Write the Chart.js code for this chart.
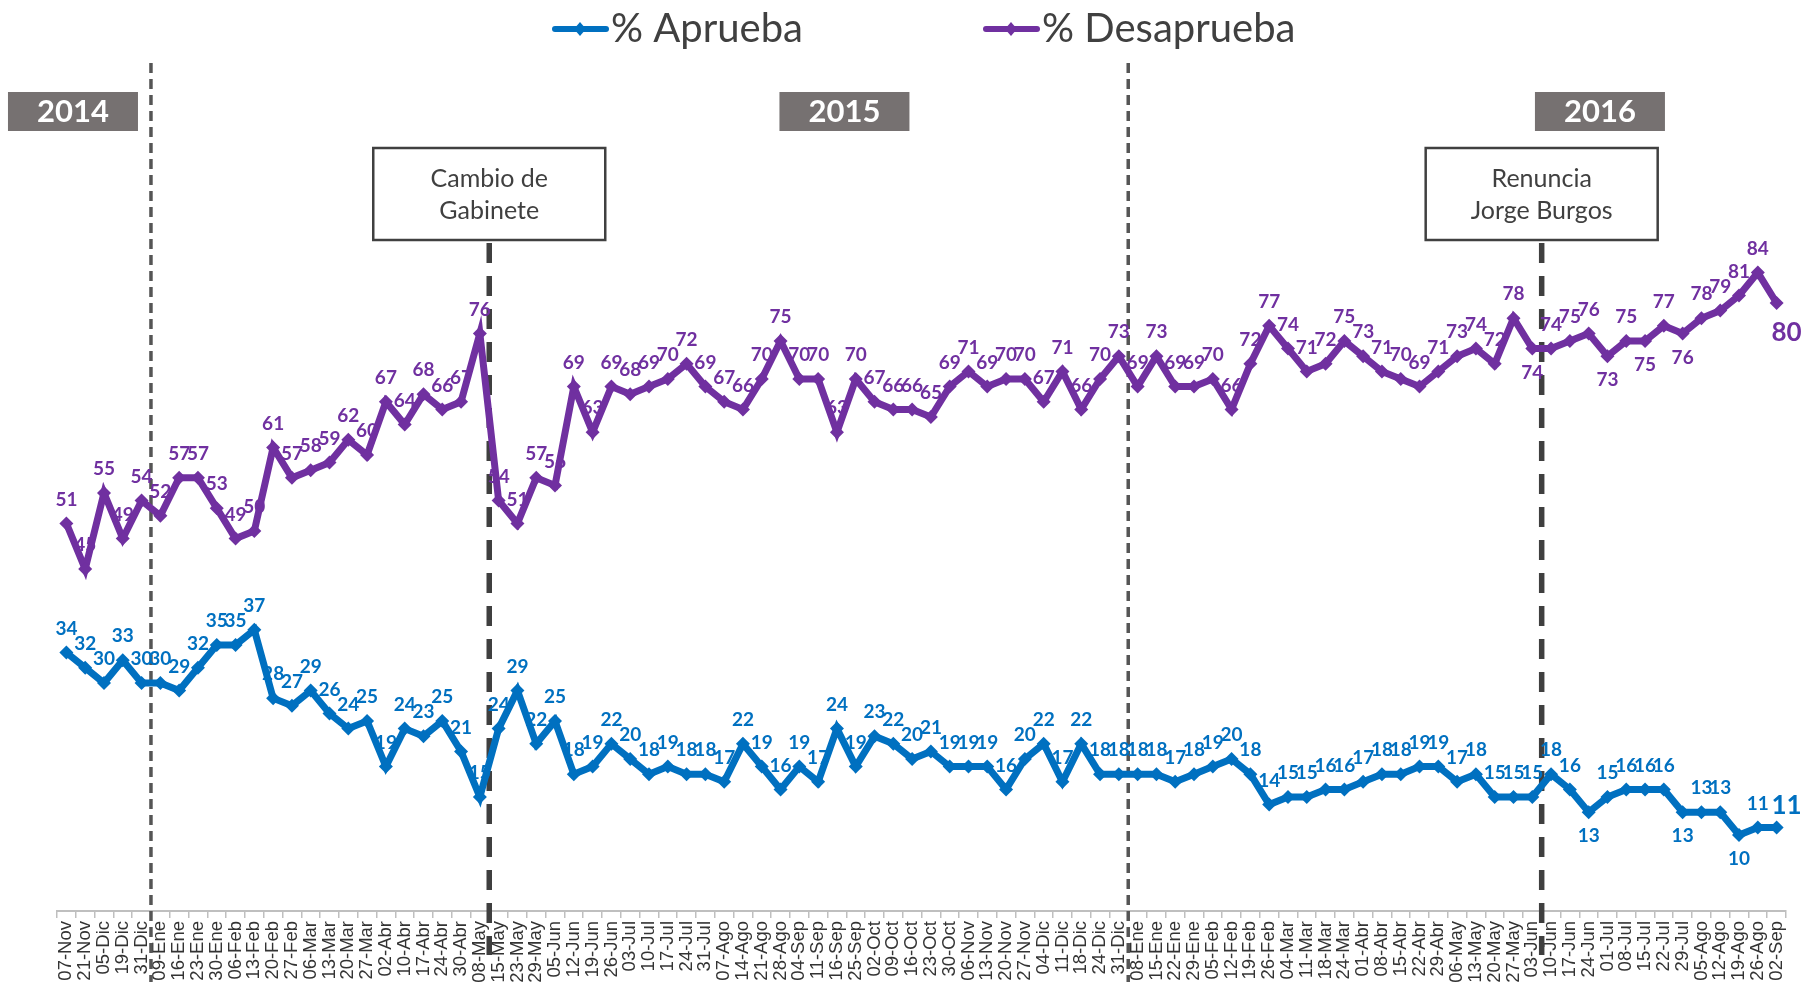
<!DOCTYPE html>
<html>
<head>
<meta charset="utf-8">
<script src="https://cdn.jsdelivr.net/npm/chart.js@4.4.0/dist/chart.umd.min.js"></script>
<style>
  html, body { margin: 0; padding: 0; background: #fff; }
  canvas { display: block; }
</style>
</head>
<body>
<canvas id="grafico" width="1802" height="982"></canvas>
<script>
// --- DATOS ---
const fechas = [
  '07-Nov','21-Nov','05-Dic','19-Dic','31-Dic',
  '09-Ene','16-Ene','23-Ene','30-Ene','06-Feb','13-Feb','20-Feb','27-Feb','06-Mar','13-Mar','20-Mar','27-Mar',
  '02-Abr','10-Abr','17-Abr','24-Abr','30-Abr','08-May','15-May','23-May','29-May','05-Jun','12-Jun','19-Jun',
  '26-Jun','03-Jul','10-Jul','17-Jul','24-Jul','31-Jul','07-Ago','14-Ago','21-Ago','28-Ago','04-Sep','11-Sep',
  '16-Sep','25-Sep','02-Oct','09-Oct','16-Oct','23-Oct','30-Oct','06-Nov','13-Nov','20-Nov','27-Nov','04-Dic',
  '11-Dic','18-Dic','24-Dic','31-Dic',
  '08-Ene','15-Ene','22-Ene','29-Ene','05-Feb','12-Feb','19-Feb','26-Feb','04-Mar','11-Mar','18-Mar','24-Mar',
  '01-Abr','08-Abr','15-Abr','22-Abr','29-Abr','06-May','13-May','20-May','27-May','03-Jun','10-Jun','17-Jun',
  '24-Jun','01-Jul','08-Jul','15-Jul','22-Jul','29-Jul','05-Ago','12-Ago','19-Ago','26-Ago','02-Sep'
];

const aprueba = [
  34, 32, 30, 33, 30,
  30, 29, 32, 35, 35, 37, 28, 27, 29, 26, 24, 25, 19, 24, 23, 25, 21, 15,
  24, 29, 22, 25, 18, 19, 22, 20, 18, 19, 18, 18, 17, 22, 19, 16, 19, 17,
  24, 19, 23, 22, 20, 21, 19, 19, 19, 16, 20, 22, 17, 22, 18, 18,
  18, 18, 17, 18, 19, 20, 18, 14, 15, 15, 16, 16, 17, 18, 18, 19, 19, 17,
  18, 15, 15, 15, 18, 16, 13, 15, 16, 16, 16, 13, 13, 13, 10, 11, 11
];

const desaprueba = [
  51, 45, 55, 49, 54,
  52, 57, 57, 53, 49, 50, 61, 57, 58, 59, 62, 60, 67, 64, 68, 66, 67, 76,
  54, 51, 57, 56, 69, 63, 69, 68, 69, 70, 72, 69, 67, 66, 70, 75, 70, 70,
  63, 70, 67, 66, 66, 65, 69, 71, 69, 70, 70, 67, 71, 66, 70, 73,
  69, 73, 69, 69, 70, 66, 72, 77, 74, 71, 72, 75, 73, 71, 70, 69, 71, 73,
  74, 72, 78, 74, 74, 75, 76, 73, 75, 75, 77, 76, 78, 79, 81, 84, 80
];

const anios = ['2014', '2015', '2016'];
const hitos = [['Cambio de', 'Gabinete'], ['Renuncia', 'Jorge Burgos']];

// --- ESTILO / POSICIONES ---
const AZUL = '#0070C0';
const MORADO = '#7030A0';
const GRIS_TXT = '#404040';
const FUENTE = 'Lato, "Open Sans", sans-serif';

// cortes de año (entre idx e idx+1) y eventos
const CORTES_ANIO = [4, 56];
const CORTES_HITO = [22, 78];
const CAJAS_ANIO = [0.35, 41.4, 81.6]; // centro en indice de categoria

// donde va cada etiqueta (por defecto arriba)
const POS_ETIQ = [
  { 81: 'below', 86: 'below', 89: 'below', 91: 'endUp' },
  { 78: 'below', 82: 'below', 84: 'below', 86: 'below', 91: 'endDown' }
];

function xEntre(sc, i) {
  return (sc.getPixelForValue(i) + sc.getPixelForValue(i + 1)) / 2;
}

function lineaV(ctx, x, y0, y1, w, dash, color) {
  ctx.save();
  ctx.strokeStyle = color;
  ctx.lineWidth = w;
  ctx.setLineDash(dash);
  ctx.beginPath();
  ctx.moveTo(x, y0);
  ctx.lineTo(x, y1);
  ctx.stroke();
  ctx.restore();
}

const anotaciones = {
  id: 'anotaciones',
  beforeDatasetsDraw(chart) {
    const ctx = chart.ctx;
    const sx = chart.scales.x;
    CORTES_ANIO.forEach(i => lineaV(ctx, xEntre(sx, i), 63, 982, 3.5, [10, 6], '#555555'));
    CORTES_HITO.forEach(i => lineaV(ctx, xEntre(sx, i), 243, 955, 5.5, [20, 13], '#3f3f3f'));

    // cajas de años
    ctx.save();
    anios.forEach((a, k) => {
      const cx = sx.getPixelForValue(CAJAS_ANIO[k]);
      ctx.fillStyle = '#767171';
      ctx.fillRect(cx - 65, 92, 130, 39);
      ctx.fillStyle = '#fff';
      ctx.font = 'bold 31px ' + FUENTE;
      ctx.textAlign = 'center';
      ctx.textBaseline = 'middle';
      ctx.fillText(a, cx, 112);
    });

    // cajas de hitos
    hitos.forEach((h, k) => {
      const cx = xEntre(sx, CORTES_HITO[k]);
      ctx.fillStyle = '#fff';
      ctx.fillRect(cx - 116, 148, 232, 92);
      ctx.strokeStyle = '#404040';
      ctx.lineWidth = 2.5;
      ctx.strokeRect(cx - 116, 148, 232, 92);
      ctx.fillStyle = GRIS_TXT;
      ctx.font = '25px ' + FUENTE;
      ctx.textAlign = 'center';
      ctx.textBaseline = 'middle';
      ctx.fillText(h[0], cx, 179);
      ctx.fillText(h[1], cx, 211);
    });
    ctx.restore();
  },
  afterDatasetsDraw(chart) {
    const ctx = chart.ctx;
    ctx.save();
    ctx.textAlign = 'center';
    ctx.textBaseline = 'middle';
    chart.data.datasets.forEach((ds, di) => {
      const meta = chart.getDatasetMeta(di);
      const pos = POS_ETIQ[di];
      ctx.fillStyle = ds.borderColor;
      meta.data.forEach((pt, i) => {
        const p = pos[i] || 'above';
        let x = pt.x, y = pt.y - 24;
        ctx.font = 'bold 19px ' + FUENTE;
        if (p === 'below') y = pt.y + 24;
        if (p === 'endUp') { x = pt.x + 10; y = pt.y - 22; ctx.font = 'bold 26px ' + FUENTE; }
        if (p === 'endDown') { x = pt.x + 10; y = pt.y + 30; ctx.font = 'bold 26px ' + FUENTE; }
        ctx.fillText(String(ds.data[i]), x, y);
      });
    });
    ctx.restore();
  },
  afterDraw(chart) {
    // leyenda
    const ctx = chart.ctx;
    ctx.save();
    const items = [[552, AZUL, '% Aprueba'], [983, MORADO, '% Desaprueba']];
    items.forEach(([x0, c, txt]) => {
      ctx.strokeStyle = c;
      ctx.lineWidth = 6;
      ctx.lineCap = 'round';
      ctx.beginPath();
      ctx.moveTo(x0 + 3, 29);
      ctx.lineTo(x0 + 54, 29);
      ctx.stroke();
      ctx.fillStyle = c;
      ctx.beginPath();
      ctx.moveTo(x0 + 28, 22); ctx.lineTo(x0 + 34, 29);
      ctx.lineTo(x0 + 28, 36); ctx.lineTo(x0 + 22, 29);
      ctx.closePath();
      ctx.fill();
      ctx.fillStyle = GRIS_TXT;
      ctx.font = '40px ' + FUENTE;
      ctx.textAlign = 'left';
      ctx.textBaseline = 'middle';
      ctx.fillText(txt, x0 + 59, 29);
    });
    ctx.restore();
  }
};

function serie(label, data, color) {
  return {
    label, data,
    borderColor: color,
    backgroundColor: color,
    borderWidth: 7,
    pointStyle: 'rectRot',
    pointRadius: 7,
    pointBackgroundColor: color,
    pointBorderColor: color,
    pointBorderWidth: 0,
    tension: 0,
    fill: false
  };
}

new Chart(document.getElementById('grafico'), {
  type: 'line',
  data: {
    labels: fechas,
    datasets: [
      serie('% Aprueba', aprueba, AZUL),
      serie('% Desaprueba', desaprueba, MORADO)
    ]
  },
  options: {
    responsive: false,
    animation: false,
    events: [],
    layout: { padding: { top: 151, left: 57, right: 16, bottom: 0 } },
    plugins: { legend: { display: false }, tooltip: { enabled: false } },
    scales: {
      x: {
        offset: true,
        grid: { offset: true, drawOnChartArea: false, drawTicks: true, tickLength: 7, color: '#bfbfbf', lineWidth: 1.5 },
        border: { display: true, color: '#bfbfbf', width: 2 },
        ticks: {
          autoSkip: false, maxRotation: 90, minRotation: 90, padding: 3,
          color: '#333333', font: { family: '"Liberation Sans", Arial, sans-serif', size: 18.5 }
        },
        afterFit: (s) => { s.height = 71; }
      },
      y: { display: false, min: 0, max: 100 }
    }
  },
  plugins: [anotaciones]
});
</script>
</body>
</html>
